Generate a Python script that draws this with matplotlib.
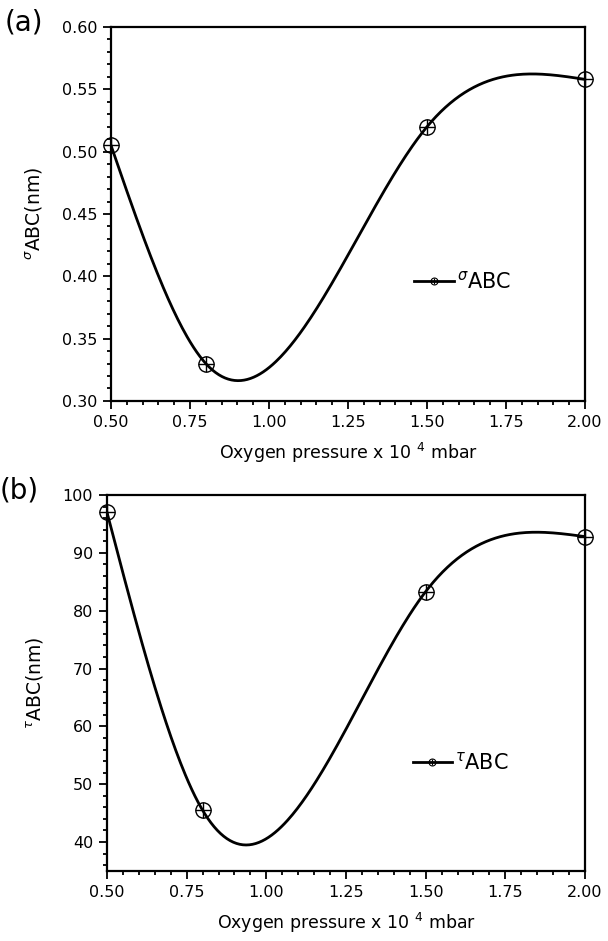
import numpy as np
import matplotlib
matplotlib.use("Agg")
import matplotlib.pyplot as plt
from matplotlib.ticker import MultipleLocator, FormatStrFormatter

plt.rcParams['font.family'] = ['DejaVu Sans']
plt.rcParams['mathtext.fontset'] = 'dejavusans'

# data
pressure = [0.5, 0.8, 1.5, 2.0]
sigma_abc = [0.505, 0.330, 0.520, 0.558]
tau_abc = [97.0, 45.5, 83.3, 92.8]


def natural_spline(x, y, n=300):
    # plain natural cubic spline through the points
    x = np.asarray(x, float)
    y = np.asarray(y, float)
    k = len(x)
    h = np.diff(x)
    A = np.zeros((k, k))
    b = np.zeros(k)
    A[0, 0] = A[-1, -1] = 1.0
    for i in range(1, k - 1):
        A[i, i - 1] = h[i - 1]
        A[i, i] = 2 * (h[i - 1] + h[i])
        A[i, i + 1] = h[i]
        b[i] = 6 * ((y[i + 1] - y[i]) / h[i] - (y[i] - y[i - 1]) / h[i - 1])
    M = np.linalg.solve(A, b)
    xs = np.linspace(x[0], x[-1], n)
    idx = np.clip(np.searchsorted(x, xs) - 1, 0, k - 2)
    x0, x1 = x[idx], x[idx + 1]
    hh = x1 - x0
    t0 = x1 - xs
    t1 = xs - x0
    ys = (M[idx] * t0 ** 3 + M[idx + 1] * t1 ** 3) / (6 * hh) \
        + (y[idx] / hh - M[idx] * hh / 6) * t0 \
        + (y[idx + 1] / hh - M[idx + 1] * hh / 6) * t1
    return xs, ys


def panel(ax, y, ylim, major, minor, fmt, name, tag, leg_y):
    xs, ys = natural_spline(pressure, y)
    ax.plot(xs, ys, color='black', lw=2.0, solid_capstyle='round')
    ax.plot(pressure, y, 'o', ms=11, mfc='none', mec='black', mew=1.0, clip_on=False)
    ax.plot(pressure, y, '+', ms=11, mec='black', mew=1.0, clip_on=False)

    # legend entry: line with small circle-plus
    l1, = ax.plot([], [], color='black', lw=2.0)
    l2, = ax.plot([], [], 'o', ms=5, mfc='none', mec='black', mew=0.8)
    l3, = ax.plot([], [], '+', ms=5, mec='black', mew=0.8)
    ax.legend([(l1, l2, l3)], [name], loc='center left',
              bbox_to_anchor=(0.6, leg_y), frameon=False, fontsize=15,
              handlelength=1.9, handletextpad=0.15)

    ax.set_xlim(0.5, 2.0)
    ax.set_ylim(*ylim)
    ax.xaxis.set_major_locator(MultipleLocator(0.25))
    ax.xaxis.set_minor_locator(MultipleLocator(0.05))
    ax.xaxis.set_major_formatter(FormatStrFormatter('%.2f'))
    ax.yaxis.set_major_locator(MultipleLocator(major))
    ax.yaxis.set_minor_locator(MultipleLocator(minor))
    ax.yaxis.set_major_formatter(FormatStrFormatter(fmt))
    ax.tick_params(which='both', direction='out', top=False, right=False,
                   labelsize=11.5, width=1.3)
    ax.tick_params(which='major', length=6, pad=4)
    ax.tick_params(which='minor', length=3)
    for s in ax.spines.values():
        s.set_linewidth(1.6)
    ax.set_xlabel('Oxygen pressure x 10 $^{4}$ mbar', fontsize=12.5, labelpad=8)
    ax.set_ylabel(name + '(nm)', fontsize=13.5, labelpad=12)
    ax.text(-0.224, 1.012, tag, transform=ax.transAxes, fontsize=20, va='center')


fig = plt.figure(figsize=(6.08, 9.41), dpi=100)
ax1 = fig.add_axes([0.1826, 0.5739, 0.7796, 0.3974])
ax2 = fig.add_axes([0.1760, 0.0744, 0.7862, 0.3996])

panel(ax1, sigma_abc, (0.30, 0.60), 0.05, 0.01, '%.2f', r'$^{\sigma}$ABC', '(a)', 0.32)
panel(ax2, tau_abc, (35, 100), 10, 2, '%d', r'$^{\tau}$ABC', '(b)', 0.29)

fig.savefig('out.png', dpi=100)
